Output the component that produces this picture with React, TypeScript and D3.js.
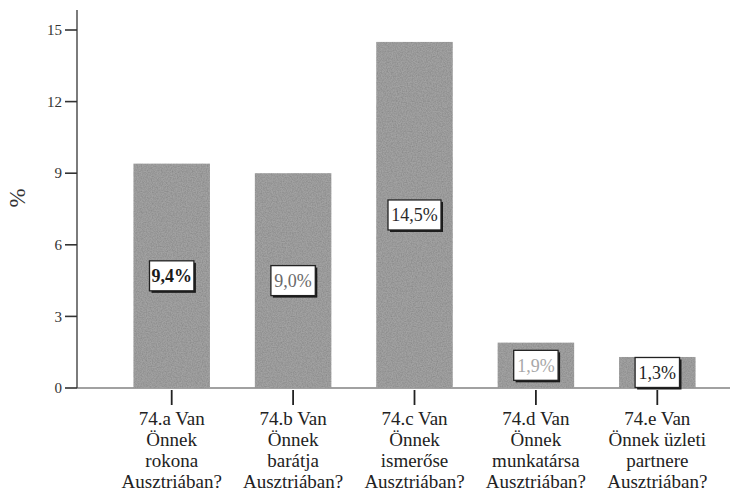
import * as d3 from 'd3';

const categories = ['74.a', '74.b', '74.c', '74.d', '74.e'];
const categoryLines = [
  ['74.a Van', 'Önnek', 'rokona', 'Ausztriában?'],
  ['74.b Van', 'Önnek', 'barátja', 'Ausztriában?'],
  ['74.c Van', 'Önnek', 'ismerőse', 'Ausztriában?'],
  ['74.d Van', 'Önnek', 'munkatársa', 'Ausztriában?'],
  ['74.e Van', 'Önnek üzleti', 'partnere', 'Ausztriában?'],
];
const values = [9.4, 9.0, 14.5, 1.9, 1.3];
const valueLabels = ['9,4%', '9,0%', '14,5%', '1,9%', '1,3%'];
const yTicks = [0, 3, 6, 9, 12, 15];

// scan-like tone of each label's text
const LABEL_TONE = ['#1a1a1a', '#6a6a6a', '#2a2a2a', '#a8a8a8', '#222'];

const W = 730;
const H = 503;
const FONT = 'Liberation Serif, serif';
const axisX = 77;

export default function App() {
  const x = d3.scaleBand<string>().domain(categories).range([111, 718]).paddingInner(0.37).paddingOuter(0.185);
  const y = d3.scaleLinear().domain([0, 15]).range([388, 30]);
  const bw = x.bandwidth();

  return (
    <svg width={W} height={H} style={{ position: 'absolute', left: 0, top: 0, background: '#fff', fontFamily: FONT }}>
      <defs>
        <filter id="grain" x="0" y="0" width="100%" height="100%">
          <feTurbulence type="fractalNoise" baseFrequency="0.8" numOctaves="2" seed="3" result="noise" />
          <feColorMatrix in="noise" type="matrix"
            values="0 0 0 0 0  0 0 0 0 0  0 0 0 0 0  0 0 0 0.5 -0.15" result="n2" />
          <feComposite in="n2" in2="SourceGraphic" operator="in" result="n3" />
          <feMerge>
            <feMergeNode in="SourceGraphic" />
            <feMergeNode in="n3" />
          </feMerge>
        </filter>
      </defs>

      {/* baseline */}
      <line x1={axisX} x2={W} y1={y(0)} y2={y(0)} stroke="#444" strokeWidth={1.2} />

      {/* bars */}
      {categories.map((c, i) => (
        <rect key={c} x={x(c)} y={y(values[i])} width={bw} height={y(0) - y(values[i])} fill="#a2a2a2" filter="url(#grain)" />
      ))}

      {/* y axis */}
      <line x1={axisX} x2={axisX} y1={10} y2={y(0)} stroke="#444" strokeWidth={1.4} />
      {yTicks.map((t) => (
        <g key={t} transform={`translate(0,${y(t)})`}>
          <line x1={axisX - 12} x2={axisX} stroke="#333" strokeWidth={1.6} />
          <text x={axisX - 15} dy="0.35em" textAnchor="end" fontSize={15} fill="#333">{t}</text>
        </g>
      ))}
      <text transform={`translate(25,198) rotate(-90)`} textAnchor="middle" fontSize={23} fill="#333">%</text>

      {/* x ticks and labels */}
      {categories.map((c, i) => {
        const cx = (x(c) ?? 0) + bw / 2;
        return (
          <g key={c}>
            <line x1={cx} x2={cx} y1={y(0) + 2} y2={y(0) + 17} stroke="#222" strokeWidth={1.8} />
            <text x={cx} y={425} textAnchor="middle" fontSize={19} fill="#222">
              {categoryLines[i].map((ln, j) => (
                <tspan key={j} x={cx} dy={j === 0 ? 0 : 21}>{ln}</tspan>
              ))}
            </text>
          </g>
        );
      })}

      {/* value labels */}
      {categories.map((c, i) => {
        const cx = (x(c) ?? 0) + bw / 2;
        const cy = y(values[i] / 2);
        const lw = valueLabels[i].length * 8.6 + 10;
        const lh = 30;
        return (
          <g key={c}>
            <rect x={cx - lw / 2 + 2} y={cy - lh / 2 + 2} width={lw} height={lh} fill="#1a1a1a" />
            <rect x={cx - lw / 2} y={cy - lh / 2} width={lw} height={lh} fill="#fff" stroke="#222" strokeWidth={1.3} />
            <text x={cx} y={cy} dy="0.35em" textAnchor="middle" fontSize={18} fill={LABEL_TONE[i]} fontWeight={i === 0 ? 'bold' : 'normal'}>
              {valueLabels[i]}
            </text>
          </g>
        );
      })}
    </svg>
  );
}
